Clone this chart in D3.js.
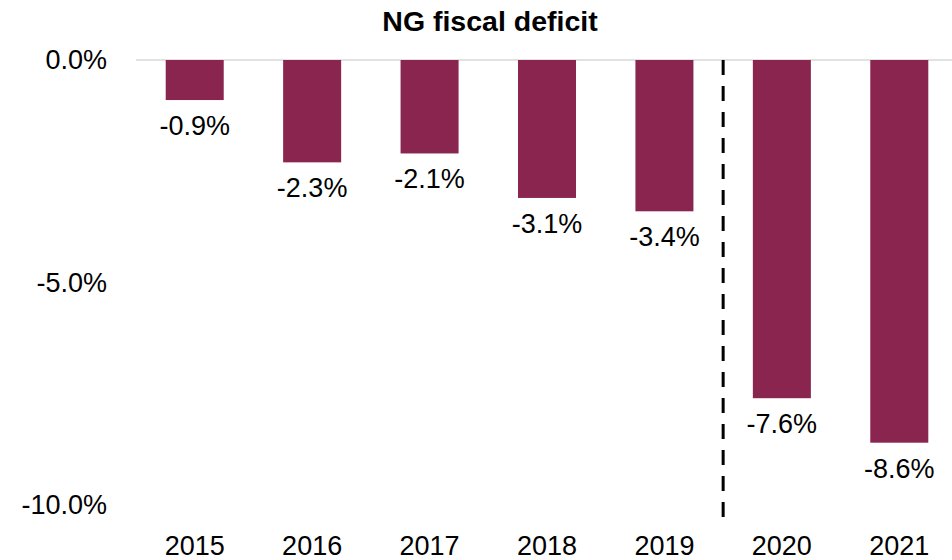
<!DOCTYPE html>
<html>
<head>
<meta charset="utf-8">
<script src="https://cdn.jsdelivr.net/npm/d3@7"></script>
<style>
  body { margin: 0; background: #fff; }
  .chart text { font-family: "Liberation Sans", Arial, sans-serif; fill: #000; }
</style>
</head>
<body>
<div class="chart"></div>
<script>
// Data
var years = ["2015", "2016", "2017", "2018", "2019", "2020", "2021"];
var deficit = [-0.9, -2.3, -2.1, -3.1, -3.4, -7.6, -8.6];
var yTicks = [0, -5, -10];

// SVG area
var svgWidth = 952;
var svgHeight = 560;

var margin = {
  top: 60,
  right: -6,
  bottom: 55,
  left: 136
};

var width = svgWidth - margin.left - margin.right;
var height = 505 - margin.top;

var svg = d3.select(".chart")
  .append("svg")
  .attr("width", svgWidth)
  .attr("height", svgHeight);

var chartGroup = svg.append("g")
  .attr("transform", `translate(${margin.left}, ${margin.top})`);

var data = years.map(function(y, i) {
  return { year: y, value: deficit[i] };
});

// plain hyphen, like the original labels
var pct = d => d.toFixed(1) + "%";

// Scales
var xBandScale = d3.scaleBand()
  .domain(years)
  .range([0, width])
  .paddingInner(0.506)
  .paddingOuter(0.253);

var yLinearScale = d3.scaleLinear()
  .domain([0, -10])
  .range([0, height]);

// Title
svg.append("text")
  .attr("x", 490)
  .attr("y", 31)
  .attr("text-anchor", "middle")
  .style("font-size", "28.5px")
  .style("font-weight", "bold")
  .text("NG fiscal deficit");

// Y axis labels (no axis line)
var leftAxis = d3.axisLeft(yLinearScale)
  .tickValues(yTicks)
  .tickSize(0)
  .tickPadding(29)
  .tickFormat(pct);

chartGroup.append("g")
  .call(leftAxis)
  .call(g => g.select(".domain").remove())
  .selectAll("text")
  .style("font-size", "27px");

// Zero line
chartGroup.append("line")
  .attr("x1", 0)
  .attr("x2", width)
  .attr("y1", yLinearScale(0))
  .attr("y2", yLinearScale(0))
  .attr("stroke", "#d9d9d9")
  .attr("stroke-width", 1.5);

// Bars
chartGroup.selectAll("rect")
  .data(data)
  .enter()
  .append("rect")
  .attr("x", d => xBandScale(d.year))
  .attr("y", yLinearScale(0))
  .attr("width", xBandScale.bandwidth())
  .attr("height", d => yLinearScale(d.value) - yLinearScale(0))
  .attr("fill", "#8a2550");

// Value labels
chartGroup.selectAll(".valueLabel")
  .data(data)
  .enter()
  .append("text")
  .attr("class", "valueLabel")
  .attr("x", d => xBandScale(d.year) + xBandScale.bandwidth() / 2)
  .attr("y", d => yLinearScale(d.value) + 35)
  .attr("text-anchor", "middle")
  .style("font-size", "27px")
  .text(d => pct(d.value));

// Dashed separator between 2019 and 2020
var sepX = (xBandScale("2019") + xBandScale("2020") + xBandScale.bandwidth()) / 2;
chartGroup.append("line")
  .attr("x1", sepX)
  .attr("x2", sepX)
  .attr("y1", yLinearScale(0))
  .attr("y2", 527 - margin.top)
  .attr("stroke", "#000")
  .attr("stroke-width", 3)
  .attr("stroke-dasharray", "15,11");

// X axis labels
var bottomAxis = d3.axisBottom(xBandScale)
  .tickSize(0)
  .tickPadding(0);

chartGroup.append("g")
  .attr("transform", `translate(0, ${555 - margin.top})`)
  .call(bottomAxis)
  .call(g => g.select(".domain").remove())
  .selectAll("text")
  .attr("dy", 0)
  .style("font-size", "27px");
</script>
</body>
</html>
